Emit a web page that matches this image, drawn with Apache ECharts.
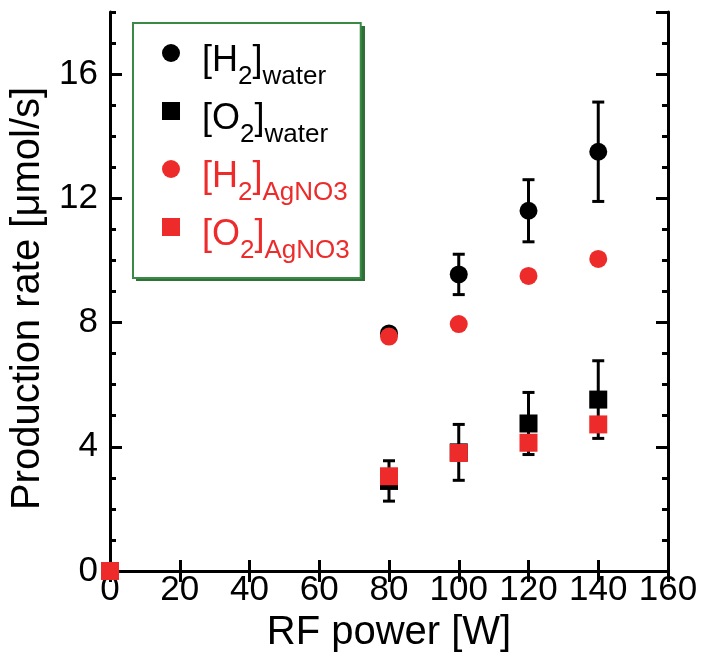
<!DOCTYPE html>
<html>
<head>
<meta charset="utf-8">
<script src="https://cdn.jsdelivr.net/npm/echarts@6/dist/echarts.min.js"></script>
<style>
  html, body { margin: 0; padding: 0; background: #fff; }
  #chart { width: 702px; height: 660px; }
</style>
</head>
<body>
<div id="chart"></div>
<script>
  // values
  const power = [0, 80, 100, 120, 140];
  const h2Water = [0, 7.65, 9.55, 11.6, 13.5];
  const h2WaterErr = [0, 0.1, 0.65, 1.0, 1.6];
  const o2Water = [0, 2.9, 3.82, 4.75, 5.52];
  const o2WaterErr = [0, 0.65, 0.9, 1.0, 1.25];
  const h2Ag = [0, 7.55, 7.95, 9.5, 10.05];
  const o2Ag = [0, 3.05, 3.8, 4.13, 4.72];
  const xTicks = [0, 160, 20];   // min, max, interval
  const yTicks = [0, 18, 4];

  const RED = '#ee2b2b';
  const FONT = 'Liberation Sans';

  const pairs = (ys) => power.map((x, i) => [x, ys[i]]);
  const bars = (ys, errs) => power.map((x, i) => [x, ys[i] - errs[i], ys[i] + errs[i]]);

  const legendText = {
    'H2water': '{f|[H}{s|2}{m|]}{s|water}',
    'O2water': '{f|[O}{s|2}{m|]}{s|water}',
    'H2AgNO3': '{f|[H}{s|2}{m|]}{s|AgNO3}',
    'O2AgNO3': '{f|[O}{s|2}{m|]}{s|AgNO3}'
  };

  function errorBarItem(params, api) {
    const x = api.value(0);
    const lo = api.coord([x, api.value(1)]);
    const hi = api.coord([x, api.value(2)]);
    const w = 6;
    const style = { stroke: '#000', lineWidth: 3 };
    return {
      type: 'group',
      children: [
        { type: 'line', shape: { x1: lo[0], y1: lo[1], x2: hi[0], y2: hi[1] }, style: style },
        { type: 'line', shape: { x1: lo[0] - w, y1: lo[1], x2: lo[0] + w, y2: lo[1] }, style: style },
        { type: 'line', shape: { x1: hi[0] - w, y1: hi[1], x2: hi[0] + w, y2: hi[1] }, style: style }
      ]
    };
  }

  const chart = echarts.init(document.getElementById('chart'));

  const lineStyle = { color: '#000', width: 3 };
  const yBase = { type: 'value', min: yTicks[0], max: yTicks[1], splitLine: { show: false } };

  const option = {
    animation: false,
    textStyle: { fontFamily: FONT },
    grid: { left: 110, right: 34, top: 12, bottom: 89 },
    // dark green drop shadow of the legend frame
    graphic: [{
      type: 'rect', left: 136, top: 26, z: 3,
      shape: { width: 229, height: 255 },
      style: { fill: '#2f7039' }
    }],
    legend: {
      left: 133,
      top: 23,
      z: 5,
      orient: 'vertical',
      selectedMode: false,
      itemWidth: 18,
      itemHeight: 18,
      itemGap: 3,
      padding: [12, 11, 14, 29],
      backgroundColor: '#fff',
      borderColor: '#3a8a46',
      borderWidth: 2,
      data: [
        { name: 'H2water', icon: 'circle', textStyle: { color: '#000' } },
        { name: 'O2water', icon: 'rect', textStyle: { color: '#000' } },
        { name: 'H2AgNO3', icon: 'circle', textStyle: { color: RED } },
        { name: 'O2AgNO3', icon: 'rect', textStyle: { color: RED } }
      ],
      formatter: (name) => legendText[name],
      textStyle: {
        fontFamily: FONT,
        rich: {
          f: { fontSize: 36, lineHeight: 36, padding: [8, 0, 0, 17], verticalAlign: 'top', fontFamily: FONT },
          m: { fontSize: 36, lineHeight: 36, padding: [8, 0, 0, 0], verticalAlign: 'top', fontFamily: FONT },
          s: { fontSize: 26, lineHeight: 26, padding: [29, 0, 0, 0], verticalAlign: 'top', fontFamily: FONT }
        }
      }
    },
    xAxis: [
      {
        type: 'value', min: xTicks[0], max: xTicks[1], interval: xTicks[2],
        name: 'RF power [W]', nameLocation: 'middle', nameGap: 35,
        nameTextStyle: { fontSize: 40, color: '#000', fontFamily: FONT },
        axisLine: { lineStyle: lineStyle },
        axisTick: { inside: true, length: 11, lineStyle: lineStyle },
        axisLabel: { fontSize: 35, color: '#000', margin: 2, fontFamily: FONT },
        splitLine: { show: false }
      },
      {
        type: 'value', position: 'top', min: xTicks[0], max: xTicks[1], interval: xTicks[2],
        axisLine: { lineStyle: lineStyle },
        axisTick: { inside: true, length: 11, lineStyle: lineStyle },
        axisLabel: { show: false },
        splitLine: { show: false }
      }
    ],
    yAxis: [
      Object.assign({}, yBase, {
        interval: yTicks[2], position: 'left',
        name: 'Production rate [\u03bcmol/s]', nameLocation: 'middle', nameGap: 62,
        nameTextStyle: { fontSize: 40, color: '#000', fontFamily: FONT, padding: [0, 14, 0, 0] },
        axisLine: { show: true, lineStyle: lineStyle },
        axisTick: { inside: true, length: 12, lineStyle: lineStyle },
        axisLabel: { fontSize: 35, color: '#000', margin: 12, showMaxLabel: false, fontFamily: FONT }
      }),
      Object.assign({}, yBase, {
        interval: 1, position: 'left',
        axisLine: { show: false },
        axisTick: { inside: true, length: 6, lineStyle: lineStyle },
        axisLabel: { show: false }
      }),
      Object.assign({}, yBase, {
        interval: yTicks[2], position: 'right',
        axisLine: { show: true, lineStyle: lineStyle },
        axisTick: { inside: true, length: 12, lineStyle: lineStyle },
        axisLabel: { show: false }
      }),
      Object.assign({}, yBase, {
        interval: 1, position: 'right',
        axisLine: { show: false },
        axisTick: { inside: true, length: 6, lineStyle: lineStyle },
        axisLabel: { show: false }
      })
    ],
    series: [
      {
        name: 'errH2', type: 'custom', renderItem: errorBarItem,
        encode: { x: 0, y: [1, 2] }, data: bars(h2Water, h2WaterErr), z: 1
      },
      {
        name: 'errO2', type: 'custom', renderItem: errorBarItem,
        encode: { x: 0, y: [1, 2] }, data: bars(o2Water, o2WaterErr), z: 1
      },
      {
        name: 'H2water', type: 'scatter', symbol: 'circle', symbolSize: 18,
        itemStyle: { color: '#000', opacity: 1 }, data: pairs(h2Water), z: 2
      },
      {
        name: 'O2water', type: 'scatter', symbol: 'rect', symbolSize: 18,
        itemStyle: { color: '#000', opacity: 1 }, data: pairs(o2Water), z: 2
      },
      {
        name: 'H2AgNO3', type: 'scatter', symbol: 'circle', symbolSize: 18,
        itemStyle: { color: RED, opacity: 1 }, data: pairs(h2Ag), z: 3
      },
      {
        name: 'O2AgNO3', type: 'scatter', symbol: 'rect', symbolSize: 18,
        itemStyle: { color: RED, opacity: 1 }, data: pairs(o2Ag), z: 3
      }
    ]
  };

  chart.setOption(option);
</script>
</body>
</html>
